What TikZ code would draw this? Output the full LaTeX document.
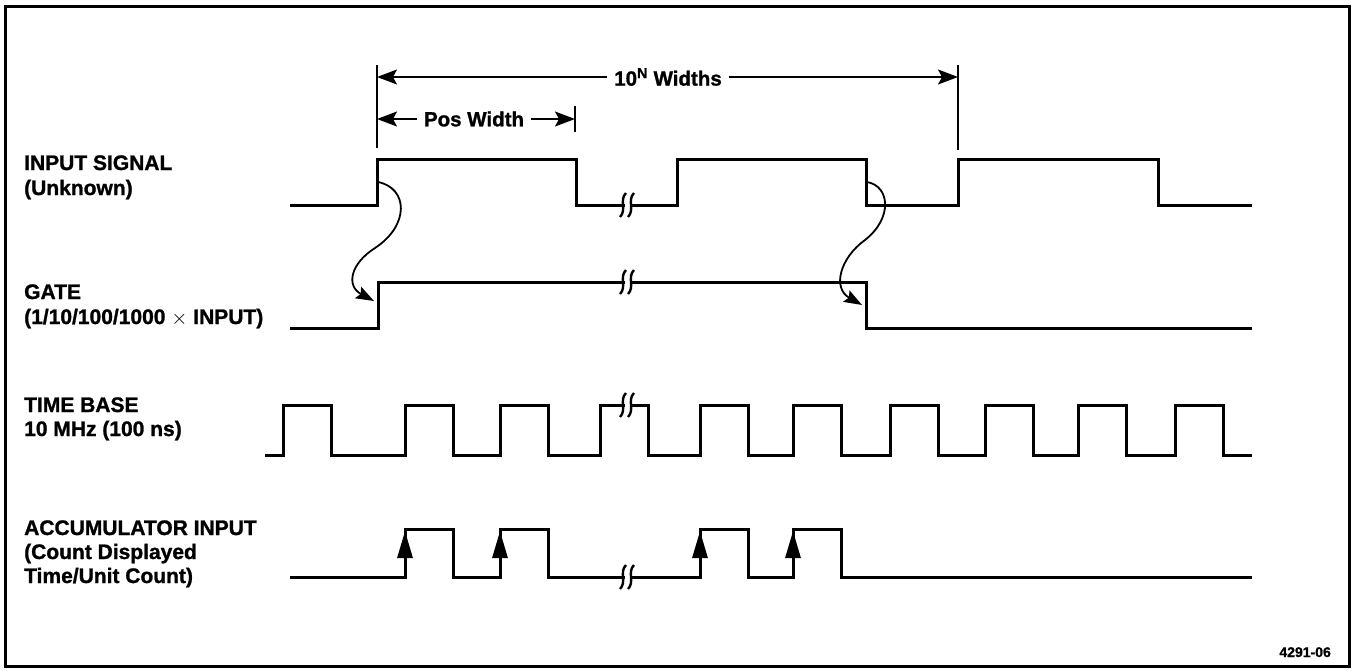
\documentclass[tikz,border=0pt]{standalone}
\usepackage{fontspec}
\setmainfont[BoldFeatures={FakeBold=1.2}]{Liberation Sans}
\usetikzlibrary{arrows.meta,positioning}

\tikzset{
  wave/.style={line width=3pt, line join=miter},
  dimline/.style={line width=1.6pt},
  dimarrow/.style={line width=1.6pt, -{Stealth[length=20pt,width=15pt,inset=4pt]}},
  flow/.style={line width=1.8pt, -{Stealth[length=18pt,width=13pt,inset=3pt]}},
  edgearrow/.style={line width=3pt, -{Triangle[length=27pt,width=15pt]}},
  lbl/.style={anchor=base west, inner sep=0pt, font=\fontsize{21}{25}\selectfont\bfseries},
  dimlbl/.style={inner xsep=7pt, inner ysep=0pt, fill=white, font=\fontsize{20.5}{24}\selectfont\bfseries},
  brk/.pic={
    \fill[white] (-3,-5) rectangle (3,5);
    \draw[line width=2.4pt] (-8,12) .. controls (-1,5) and (-9,-5) .. (-2,-12);
    \draw[line width=2.4pt] (0,12) .. controls (7,5) and (-1,-5) .. (6,-12);
  }
}

\begin{document}
\begin{tikzpicture}[x=1pt,y=-1pt]
  \useasboundingbox (0,0) rectangle (1353,670);
  \draw[line width=3pt] (5,6) rectangle (1349,666);

  % labels
  \node[lbl] (insig) at (24,170) {INPUT SIGNAL};
  \node[lbl] (insub) at (24,195) {(Unknown)};
  \node[lbl] (gate) at (24,299) {GATE};
  \node[lbl] (gatesub) at (24,324) {(1/10/100/1000 $\times$ INPUT)};
  \node[lbl] (tbase) at (24,412) {TIME BASE};
  \node[lbl] (tbsub) at (24,436) {10 MHz (100 ns)};
  \node[lbl] (accum) at (24,535) {ACCUMULATOR INPUT};
  \node[lbl] (accsub) at (24,559) {(Count Displayed};
  \node[lbl] (accsubb) at (24,583) {Time/Unit Count)};
  \node[anchor=base east, inner sep=0pt, font=\fontsize{14}{16}\selectfont\bfseries] (fig) at (1331,657) {4291-06};

  % waveforms
  \draw[wave] (290,205) -- (377,205) -- (377,159) -- (576,159) -- (576,205) -- (677,205)
    -- (677,159) -- (866,159) -- (866,205) -- (958,205) -- (958,159) -- (1158,159)
    -- (1158,205) -- (1252,205);
  \draw[wave] (290,328) -- (378,328) -- (378,282) -- (866,282) -- (866,328) -- (1252,328);
  \draw[wave] (265,455) \foreach \r in {283,405,500,600,700,793,890,985,1078,1175} {
    -- (\r,455) -- (\r,405) -- (\r+48,405) -- (\r+48,455) } -- (1252,455);
  \draw[wave] (290,577) \foreach \r in {405,500,700,793} {
    -- (\r,577) -- (\r,529) -- (\r+48,529) -- (\r+48,577) } -- (1252,577);
  \foreach \r in {405,500,700,793}
    \draw[edgearrow] (\r,577) -- (\r,531);

  % breaks
  \pic at (628,205) {brk};
  \pic at (628,282) {brk};
  \pic at (628,405) {brk};
  \pic at (628,577) {brk};

  % dimensions
  \draw[dimline] (377,65) -- (377,148);
  \draw[dimline] (958,65) -- (958,150);
  \draw[dimline] (575,106) -- (575,132);
  \coordinate (tenL) at (377,77);
  \coordinate (tenR) at (958,77);
  \coordinate (posL) at (377,119);
  \coordinate (posR) at (575,119);
  \node[dimlbl] (tenw) at (668,77) {10\textsuperscript{N} Widths};
  \node[dimlbl] (posw) at (474,119) {Pos Width};
  \draw[dimarrow] (tenw) -- (tenL);
  \draw[dimarrow] (tenw) -- (tenR);
  \draw[dimarrow] (posw) -- (posL);
  \draw[dimarrow] (posw) -- (posR);

  % gate transitions
  \coordinate (inrise) at (378,182);
  \coordinate (gaterise) at (374,301);
  \coordinate (infall) at (867,182);
  \coordinate (gatefall) at (862,305);
  \draw[flow] (inrise) .. controls (408,188) and (410,225) .. (375,248)
    .. controls (350,264) and (346,286) .. (gaterise);
  \draw[flow] (infall) .. controls (890,186) and (893,218) .. (865,240)
    .. controls (840,258) and (832,288) .. (gatefall);
\end{tikzpicture}
\end{document}
